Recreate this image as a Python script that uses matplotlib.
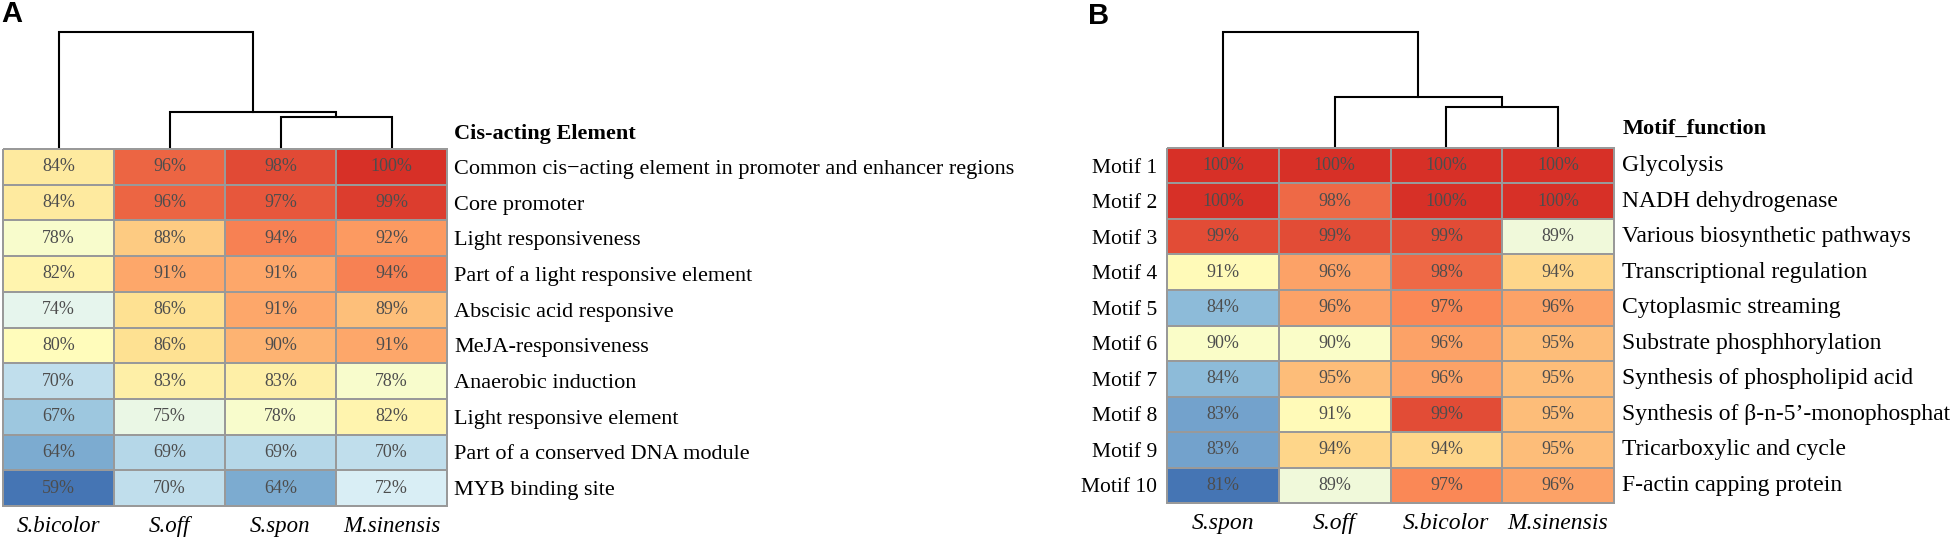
import numpy as np
import matplotlib
matplotlib.use("Agg")
import matplotlib.pyplot as plt
from matplotlib.colors import LinearSegmentedColormap

# ---- data ----
species_a = ["S.bicolor", "S.off", "S.spon", "M.sinensis"]
elements_a = [
    "Common cis\u2212acting element in promoter and enhancer regions",
    "Core promoter",
    "Light responsiveness",
    "Part of a light responsive element",
    "Abscisic acid responsive",
    "MeJA-responsiveness",
    "Anaerobic induction",
    "Light responsive element",
    "Part of a conserved DNA module",
    "MYB binding site",
]
values_a = [
    [84, 96, 98, 100],
    [84, 96, 97, 99],
    [78, 88, 94, 92],
    [82, 91, 91, 94],
    [74, 86, 91, 89],
    [80, 86, 90, 91],
    [70, 83, 83, 78],
    [67, 75, 78, 82],
    [64, 69, 69, 70],
    [59, 70, 64, 72],
]
# merges: (left node, right node, height); leaves 0..3 in display order
merges_a = [(2, 3, 0.27), (1, 4, 0.32), (0, 5, 1.0)]

species_b = ["S.spon", "S.off", "S.bicolor", "M.sinensis"]
motifs_b = ["Motif 1", "Motif 2", "Motif 3", "Motif 4", "Motif 5",
            "Motif 6", "Motif 7", "Motif 8", "Motif 9", "Motif 10"]
functions_b = [
    "Glycolysis",
    "NADH dehydrogenase",
    "Various biosynthetic pathways",
    "Transcriptional regulation",
    "Cytoplasmic streaming",
    "Substrate phosphhorylation",
    "Synthesis of phospholipid acid",
    "Synthesis of \u03b2-n-5\u2019-monophosphate",
    "Tricarboxylic and cycle",
    "F-actin capping protein",
]
values_b = [
    [100, 100, 100, 100],
    [100, 98, 100, 100],
    [99, 99, 99, 89],
    [91, 96, 98, 94],
    [84, 96, 97, 96],
    [90, 90, 96, 95],
    [84, 95, 96, 95],
    [83, 91, 99, 95],
    [83, 94, 94, 95],
    [81, 89, 97, 96],
]
merges_b = [(2, 3, 0.35), (1, 4, 0.44), (0, 5, 1.0)]

# pheatmap default palette (reversed RdYlBu, 7 colours)
cmap = LinearSegmentedColormap.from_list(
    "rdylbu_r", ["#4575B4", "#91BFDB", "#E0F3F8", "#FFFFBF",
                 "#FEE090", "#FC8D59", "#D73027"])

SERIF = ["Liberation Serif", "DejaVu Serif"]
plt.rcParams["font.family"] = SERIF

W, H = 1951, 537
fig = plt.figure(figsize=(W / 100, H / 100), dpi=100)


def px_axes(x0, y0, x1, y1):
    return fig.add_axes([x0 / W, 1 - y1 / H, (x1 - x0) / W, (y1 - y0) / H])


def draw_dendro(ax, merges, n):
    pos = {i: (i + 0.5, 0.0) for i in range(n)}
    for k, (a, b, h) in enumerate(merges):
        xa, ya = pos[a]
        xb, yb = pos[b]
        ax.plot([xa, xa, xb, xb], [ya, h, h, yb], color="black", lw=1.5,
                solid_joinstyle="miter", clip_on=False)
        pos[n + k] = ((xa + xb) / 2, h)
    ax.set_xlim(0, n)
    ax.set_ylim(0, max(m[2] for m in merges))
    ax.axis("off")


def draw_heat(ax, vals, cols, colsize):
    vals = np.array(vals)
    nr, nc = vals.shape
    mesh = ax.pcolormesh(np.arange(nc + 1), np.arange(nr + 1), vals, cmap=cmap,
                         vmin=vals.min(), vmax=vals.max(),
                         edgecolors="#999999", linewidth=1.1)
    mesh.set_clip_on(False)
    for i in range(nr):
        for j in range(nc):
            ax.text(j + 0.5, i + 0.5, f"{vals[i, j]}%", ha="center", va="center",
                    color="#4D4D4D", fontsize=13)
    ax.set_xlim(0, nc)
    ax.set_ylim(nr, 0)
    for s in ax.spines.values():
        s.set_visible(False)
    ax.set_xticks(np.arange(nc) + 0.5)
    ax.set_xticklabels(cols, fontsize=colsize, style="italic")
    ax.tick_params(axis="x", length=0, pad=7)
    ax.set_yticks(np.arange(nr) + 0.5)


# ---- panel A ----
dA = px_axes(3, 32, 447, 149)
draw_dendro(dA, merges_a, 4)
hA = px_axes(3, 149, 447, 506)
draw_heat(hA, values_a, species_a, 16.5)
hA.yaxis.tick_right()
hA.set_yticklabels(elements_a, fontsize=16)
hA.tick_params(axis="y", length=0, pad=5)
hA.annotate("Cis-acting Element", xy=(1, 1), xycoords="axes fraction",
            xytext=(5, 11), textcoords="offset points", ha="left", va="center",
            fontsize=16, fontweight="bold")

# ---- panel B ----
dB = px_axes(1167, 32, 1614, 148)
draw_dendro(dB, merges_b, 4)
hB = px_axes(1167, 148, 1614, 503)
draw_heat(hB, values_b, species_b, 17)
hB.set_yticklabels(motifs_b, fontsize=15.5)
hB.tick_params(axis="y", length=0, pad=7)
for i, f in enumerate(functions_b):
    hB.annotate(f, xy=(1, i + 0.5), xycoords=("axes fraction", "data"),
                xytext=(6, 0), textcoords="offset points", ha="left",
                va="center", fontsize=17)
hB.annotate("Motif_function", xy=(1, 1), xycoords="axes fraction",
            xytext=(6, 14), textcoords="offset points", ha="left", va="center",
            fontsize=16, fontweight="bold")

fig.text(1 / W, 1 - 14 / H, "A", fontsize=21, fontweight="bold",
         family="Liberation Sans", ha="left", va="center")
fig.text(1088 / W, 1 - 16 / H, "B", fontsize=21, fontweight="bold",
         family="Liberation Sans", ha="left", va="center")

fig.savefig("out.png", dpi=100)
